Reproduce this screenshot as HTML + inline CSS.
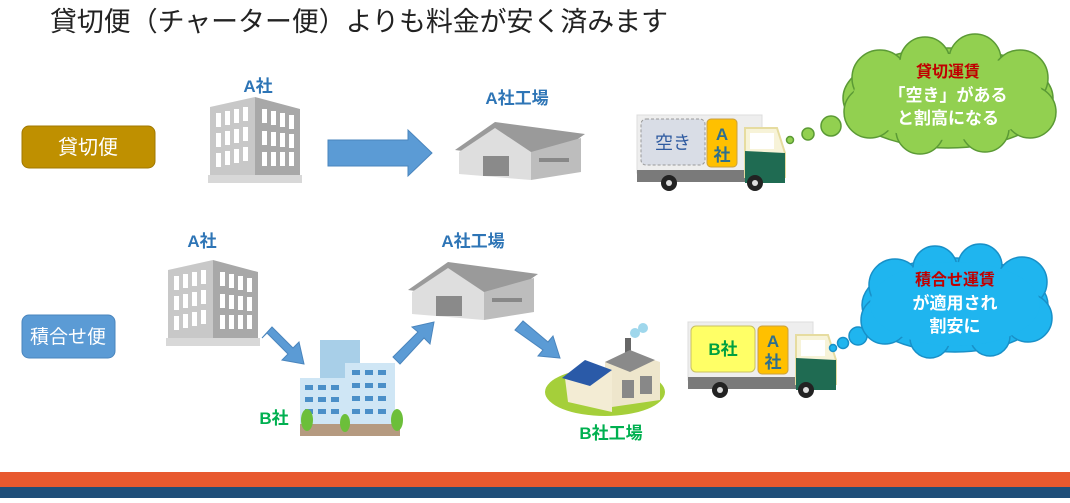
<!DOCTYPE html>
<html><head><meta charset="utf-8"><style>
body{margin:0;width:1070px;height:498px;background:#fff;overflow:hidden;font-family:"Liberation Sans","Noto Sans CJK JP",sans-serif;}
svg text{font-family:"Liberation Sans","Noto Sans CJK JP",sans-serif;}
</style></head><body>
<svg width="1070" height="498" viewBox="0 0 1070 498" xmlns="http://www.w3.org/2000/svg">
<defs>
<g id="office">
  <polygon points="0,10 45,0 45,86 0,80" fill="#c8c8c8"/>
  <polygon points="45,0 90,12 90,80 45,86" fill="#a8a8a8"/>
  <g fill="#fff">
    <rect x="6" y="16" width="5" height="14"/><rect x="15" y="14" width="5" height="14"/><rect x="24" y="12" width="5" height="14"/><rect x="33" y="10" width="5" height="14"/>
    <rect x="6" y="36" width="5" height="14"/><rect x="15" y="34" width="5" height="14"/><rect x="24" y="32" width="5" height="14"/><rect x="33" y="30" width="5" height="14"/>
    <rect x="6" y="56" width="5" height="14"/><rect x="15" y="54" width="5" height="14"/><rect x="24" y="52" width="5" height="14"/><rect x="33" y="50" width="5" height="14"/>
    <rect x="52" y="12" width="5" height="14"/><rect x="61" y="14" width="5" height="14"/><rect x="70" y="16" width="5" height="14"/><rect x="79" y="18" width="5" height="14"/>
    <rect x="52" y="34" width="5" height="14"/><rect x="61" y="35" width="5" height="14"/><rect x="70" y="36" width="5" height="14"/><rect x="79" y="37" width="5" height="14"/>
    <rect x="52" y="55" width="5" height="14"/><rect x="61" y="55" width="5" height="14"/><rect x="70" y="55" width="5" height="14"/><rect x="79" y="55" width="5" height="14"/>
  </g>
  <rect x="-2" y="78" width="94" height="8" fill="#d8d8d8"/>
</g>
<g id="factory">
  <polygon points="0,28 40,0 130,12 90,40" fill="#9a9a9a"/>
  <polygon points="4,30 40,6 76,30 76,58 4,52" fill="#dedede"/>
  <polygon points="76,30 126,16 126,50 76,58" fill="#bdbdbd"/>
  <rect x="28" y="34" width="26" height="20" fill="#8a8a8a"/>
  <rect x="84" y="36" width="30" height="4" fill="#888"/>
</g>
<g id="truck">
  <rect x="0" y="0" width="125" height="58" fill="#eeeeee" stroke="#ddd"/>
  <rect x="0" y="55" width="133" height="12" fill="#7a7a7a"/>
  <polygon points="108,13 140,13 148,38 148,62 108,62" fill="#f7f3d8" stroke="#e6dca0" stroke-width="2"/>
  <polygon points="108,36 148,38 148,68 108,68" fill="#1f6b52"/>
  <rect x="113" y="18" width="24" height="16" fill="#fff"/>
  <circle cx="32" cy="68" r="8" fill="#222"/><circle cx="32" cy="68" r="3" fill="#ddd"/>
  <circle cx="118" cy="68" r="8" fill="#222"/><circle cx="118" cy="68" r="3" fill="#ddd"/>
  <rect x="70" y="4" width="30" height="48" rx="4" fill="#ffc000" stroke="#c9a040"/>
  <text x="85" y="25" text-anchor="middle" font-size="17" font-weight="bold" fill="#2e6f8e">A</text>
  <text x="85" y="46" text-anchor="middle" font-size="17" font-weight="bold" fill="#2e6f8e">社</text>
</g>
</defs>

<text x="50" y="31" font-size="27" fill="#222" textLength="618" lengthAdjust="spacingAndGlyphs">貸切便（チャーター便）よりも料金が安く済みます</text>

<!-- top row -->
<rect x="22" y="126" width="133" height="42" rx="7" fill="#bf9000" stroke="#a07800"/>
<text x="88" y="154" text-anchor="middle" font-size="20" fill="#fff">貸切便</text>
<text x="258" y="92" text-anchor="middle" font-size="17" font-weight="bold" fill="#2e75b6">A社</text>
<use href="#office" x="210" y="97"/>
<polygon points="328,140 408,140 408,130 432,153 408,176 408,166 328,166" fill="#5b9bd5" stroke="#4a85bd"/>
<text x="517" y="104" text-anchor="middle" font-size="17" font-weight="bold" fill="#2e75b6">A社工場</text>
<use href="#factory" x="455" y="122"/>
<use href="#truck" x="637" y="115"/>
<rect x="641" y="119" width="64" height="46" rx="5" fill="#d9dde6" stroke="#999" stroke-dasharray="3,2"/>
<text x="673" y="149" text-anchor="middle" font-size="18" fill="#2e5aa0">空き</text>
<g fill="#92d050" stroke="#5b9a35" stroke-width="1.5">
  <circle cx="790" cy="140" r="3.5"/><circle cx="808" cy="134" r="6"/><circle cx="831" cy="126" r="10"/>
  <ellipse cx="948" cy="98" rx="105" ry="50"/>
  <circle cx="880" cy="78" r="28"/><circle cx="925" cy="62" r="25"/><circle cx="975" cy="60" r="26"/><circle cx="1020" cy="78" r="28"/>
  <circle cx="1030" cy="112" r="26"/><circle cx="985" cy="128" r="24"/><circle cx="920" cy="130" r="24"/><circle cx="870" cy="112" r="26"/>
</g>
<ellipse cx="948" cy="97" rx="95" ry="43" fill="#92d050"/>
<text x="948" y="77" text-anchor="middle" font-size="16" font-weight="bold" fill="#c00000">貸切運賃</text>
<text x="948" y="101" text-anchor="middle" font-size="17" font-weight="bold" fill="#fff">「空き」がある</text>
<text x="948" y="124" text-anchor="middle" font-size="17" font-weight="bold" fill="#fff">と割高になる</text>

<!-- bottom row -->
<rect x="22" y="315" width="93" height="43" rx="7" fill="#5b9bd5" stroke="#4a85bd"/>
<text x="68" y="343" text-anchor="middle" font-size="19" fill="#fff">積合せ便</text>
<text x="202" y="247" text-anchor="middle" font-size="17" font-weight="bold" fill="#2e75b6">A社</text>
<use href="#office" x="168" y="260"/>
<polygon points="262,338 272,327 293,348 299,342 304,364 282,360 288,354 267,333" fill="#5b9bd5" stroke="#4a85bd"/>
<!-- B building -->
<g>
  <rect x="320" y="340" width="40" height="70" fill="#a8cfe8"/>
  <rect x="345" y="363" width="50" height="65" fill="#cfe6f5"/>
  <rect x="300" y="378" width="48" height="52" fill="#cfe6f5"/>
  <g fill="#4a8fc8">
    <rect x="305" y="385" width="8" height="5"/><rect x="318" y="385" width="8" height="5"/><rect x="331" y="385" width="8" height="5"/>
    <rect x="305" y="397" width="8" height="5"/><rect x="318" y="397" width="8" height="5"/><rect x="331" y="397" width="8" height="5"/>
    <rect x="305" y="409" width="8" height="5"/><rect x="318" y="409" width="8" height="5"/><rect x="331" y="409" width="8" height="5"/>
    <rect x="352" y="370" width="8" height="5"/><rect x="365" y="370" width="8" height="5"/><rect x="378" y="370" width="8" height="5"/>
    <rect x="352" y="383" width="8" height="5"/><rect x="365" y="383" width="8" height="5"/><rect x="378" y="383" width="8" height="5"/>
    <rect x="352" y="396" width="8" height="5"/><rect x="365" y="396" width="8" height="5"/><rect x="378" y="396" width="8" height="5"/>
    <rect x="352" y="409" width="8" height="5"/><rect x="365" y="409" width="8" height="5"/><rect x="378" y="409" width="8" height="5"/>
  </g>
  <rect x="300" y="424" width="100" height="12" fill="#b59a80"/>
  <g fill="#6cbf3a"><ellipse cx="307" cy="420" rx="6" ry="11"/><ellipse cx="345" cy="423" rx="5" ry="9"/><ellipse cx="397" cy="420" rx="6" ry="11"/></g>
</g>
<text x="274" y="424" text-anchor="middle" font-size="17" font-weight="bold" fill="#00b050">B社</text>
<polygon points="393,357 418,332 412,327 434,322 430,344 424,338 400,364" fill="#5b9bd5" stroke="#4a85bd"/>
<text x="473" y="247" text-anchor="middle" font-size="17" font-weight="bold" fill="#2e75b6">A社工場</text>
<use href="#factory" x="408" y="262"/>
<polygon points="515,330 523,321 548,342 553,336 560,358 538,356 543,350" fill="#5b9bd5" stroke="#4a85bd"/>
<!-- B factory -->
<ellipse cx="605" cy="392" rx="60" ry="24" fill="#a5cf3a"/>
<rect x="625" y="338" width="6" height="18" fill="#666"/>
<circle cx="635" cy="333" r="5" fill="#9fd7ec"/><circle cx="643" cy="328" r="5" fill="#9fd7ec"/>
<polygon points="605,362 630,352 660,362 660,400 605,408" fill="#eee6cc"/>
<polygon points="605,362 630,350 655,360 630,372" fill="#8a8a8a"/>
<polygon points="565,378 585,362 612,372 612,412 568,402" fill="#f3ecd4"/>
<polygon points="562,378 585,360 612,370 590,386" fill="#2a5aa8"/>
<rect x="622" y="380" width="12" height="18" fill="#888"/><rect x="640" y="376" width="12" height="18" fill="#888"/>
<text x="611" y="439" text-anchor="middle" font-size="17" font-weight="bold" fill="#00b050">B社工場</text>
<use href="#truck" x="688" y="322"/>
<rect x="691" y="326" width="64" height="46" rx="5" fill="#ffff66" stroke="#c9c060"/>
<text x="723" y="355" text-anchor="middle" font-size="17" font-weight="bold" fill="#00a040">B社</text>
<g fill="#1fb5ef" stroke="#1890c8" stroke-width="1.5">
  <circle cx="833" cy="348" r="3.5"/><circle cx="843" cy="343" r="5.5"/><circle cx="858" cy="336" r="9"/>
  <ellipse cx="955" cy="305" rx="93" ry="47"/>
  <circle cx="895" cy="285" r="26"/><circle cx="935" cy="268" r="22"/><circle cx="980" cy="266" r="22"/><circle cx="1022" cy="282" r="25"/>
  <circle cx="1028" cy="318" r="24"/><circle cx="990" cy="336" r="20"/><circle cx="930" cy="338" r="20"/><circle cx="885" cy="320" r="24"/>
</g>
<ellipse cx="955" cy="304" rx="85" ry="42" fill="#1fb5ef"/>
<text x="955" y="285" text-anchor="middle" font-size="16" font-weight="bold" fill="#c00000">積合せ運賃</text>
<text x="955" y="309" text-anchor="middle" font-size="17" font-weight="bold" fill="#fff">が適用され</text>
<text x="955" y="332" text-anchor="middle" font-size="17" font-weight="bold" fill="#fff">割安に</text>

<rect x="0" y="472" width="1070" height="15" fill="#e8592f"/>
<rect x="0" y="487" width="1070" height="11" fill="#1f4e79"/>
</svg>
</body></html>
